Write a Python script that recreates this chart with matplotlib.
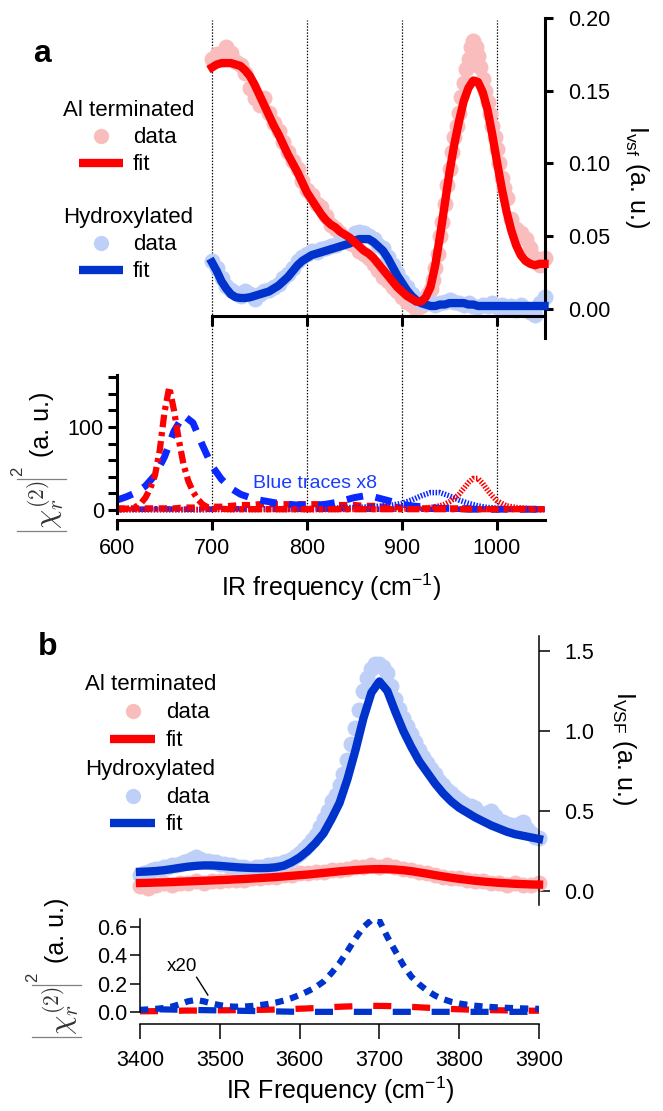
import numpy as np
import matplotlib
matplotlib.use("Agg")
import matplotlib.pyplot as plt
from matplotlib.lines import Line2D
from matplotlib.ticker import MultipleLocator, FormatStrFormatter

plt.rcParams['font.family'] = ['Liberation Sans', 'DejaVu Sans']
plt.rcParams['mathtext.fontset'] = 'custom'
plt.rcParams['mathtext.rm'] = 'Liberation Sans'
plt.rcParams['mathtext.it'] = 'Liberation Sans:italic'
plt.rcParams['mathtext.bf'] = 'Liberation Sans:bold'
plt.rcParams['lines.scale_dashes'] = False

W, H = 663, 1111

# ---------------- dados ----------------
# painel a, espectro I_vsf
fa = np.arange(700, 1051, 5)
# pontos mais densos na subida do pico de 975
fa_al = np.concatenate([np.arange(700, 921, 5), np.arange(922.5, 1011, 2.5), np.arange(1015, 1051, 5)])
al_data_a = [0.172, 0.175, 0.172, 0.180, 0.176, 0.170, 0.168, 0.162, 0.152, 0.145,
             0.140, 0.145, 0.135, 0.128, 0.122, 0.115, 0.108, 0.102, 0.096, 0.088,
             0.082, 0.078, 0.072, 0.070, 0.064, 0.058, 0.055, 0.052, 0.048, 0.045,
             0.044, 0.040, 0.038, 0.035, 0.031, 0.027, 0.022, 0.019, 0.015, 0.012,
             0.008, 0.005, 0.003, 0.000, 0.002,
             0.004, 0.006, 0.010, 0.014, 0.020, 0.028, 0.038, 0.050, 0.060, 0.072,
             0.085, 0.096, 0.108, 0.118, 0.126, 0.135, 0.146, 0.155, 0.165, 0.172,
             0.180, 0.184, 0.180, 0.174, 0.166, 0.158, 0.150, 0.142, 0.134, 0.126,
             0.118, 0.110, 0.100, 0.090, 0.083, 0.076,
             0.062, 0.055, 0.052, 0.048, 0.042, 0.035, 0.030, 0.035]
al_fit_a = [0.166, 0.168, 0.169, 0.169, 0.169, 0.168, 0.167, 0.164, 0.160, 0.154,
            0.147, 0.140, 0.133, 0.126, 0.120, 0.113, 0.106, 0.100, 0.094, 0.087,
            0.080, 0.075, 0.070, 0.065, 0.061, 0.058, 0.056, 0.053, 0.051, 0.049,
            0.046, 0.043, 0.040, 0.038, 0.035, 0.031, 0.027, 0.023, 0.019, 0.015,
            0.012, 0.009, 0.007, 0.005, 0.005, 0.008, 0.015, 0.030, 0.050, 0.072,
            0.094, 0.113, 0.129, 0.143, 0.152, 0.157, 0.156, 0.149, 0.137, 0.120,
            0.101, 0.083, 0.067, 0.054, 0.044, 0.037, 0.033, 0.031, 0.030, 0.031,
            0.031]
oh_data_a = [0.033, 0.028, 0.021, 0.016, 0.013, 0.011, 0.009, 0.012, 0.010, 0.007,
             0.010, 0.012, 0.013, 0.015, 0.017, 0.021, 0.024, 0.028, 0.033, 0.036,
             0.038, 0.040, 0.039, 0.041, 0.042, 0.043, 0.044, 0.046, 0.047, 0.049,
             0.052, 0.053, 0.052, 0.050, 0.048, 0.044, 0.042, 0.036, 0.030, 0.025,
             0.019, 0.015, 0.010, 0.007, 0.005, 0.004, 0.004, 0.003, 0.004, 0.005,
             0.006, 0.005, 0.004, 0.003, 0.004, 0.002, 0.001, 0.003, 0.002, 0.004,
             0.001, 0.003, 0.000, 0.002, -0.001, 0.003, 0.000, -0.002, -0.004, 0.004,
             0.008]
oh_fit_a = [0.032, 0.026, 0.019, 0.014, 0.010, 0.008, 0.0075, 0.0075, 0.008, 0.009,
            0.010, 0.011, 0.012, 0.014, 0.016, 0.019, 0.022, 0.026, 0.030, 0.033,
            0.035, 0.037, 0.038, 0.039, 0.040, 0.041, 0.042, 0.043, 0.044, 0.045,
            0.047, 0.048, 0.048, 0.048, 0.046, 0.043, 0.040, 0.035, 0.029, 0.023,
            0.018, 0.013, 0.009, 0.006, 0.004, 0.003, 0.002, 0.002, 0.003, 0.003,
            0.004, 0.004, 0.004, 0.004, 0.003, 0.003, 0.002, 0.002, 0.002, 0.002,
            0.002, 0.002, 0.002, 0.002, 0.002, 0.002, 0.002, 0.002, 0.002, 0.002,
            0.002]
grid_freqs = [700, 800, 900, 1000]

# painel a, |chi|^2 dos modos (azul ja multiplicado por 8)
fa_chi = np.arange(600, 1051, 10)
oh_dash_a = [12, 16, 21, 29, 42, 64, 95, 114, 105, 78,
             53, 37, 26, 19, 15, 12, 10, 8, 7, 6,
             6, 6, 7, 9, 12, 15, 17, 16, 13, 10,
             7, 5, 4, 3, 2, 2, 2, 1, 1, 1,
             1, 1, 1, 1, 1, 1]
oh_dot_a = [0.5, 0.5, 0.5, 0.5, 0.5, 0.5, 0.5, 0.5, 0.5, 0.5,
            1, 1, 1, 1, 1, 1.5, 1.5, 1.5, 2, 2,
            2, 2, 2.5, 2.5, 3, 3, 3.5, 4, 5, 6,
            8, 12, 17, 21, 21, 17, 12, 8, 5, 3,
            2, 1.5, 1, 1, 0.5, 0.5]
oh_dashdot_a = [1, 1, 1, 1, 1.5, 1.5, 1, 1, 1, 1,
                1, 1, 1.5, 1.5, 1, 1, 1, 1, 1, 1,
                1, 1, 1, 1.5, 1.5, 1, 1, 1, 1, 1,
                1, 1, 1, 1, 1, 1, 1, 1, 1, 1,
                1, 1, 1, 1, 1, 1]
al_dash_a = [2, 2, 2, 2, 2, 2, 2, 3, 3, 3,
             4, 4, 5, 6, 6, 7, 7, 7, 7, 7,
             7, 7, 6, 6, 6, 6, 5, 5, 4, 4,
             3, 3, 2, 2, 2, 2, 2, 2, 1, 1,
             1, 1, 1, 1, 1, 1]
al_dd_x = [600, 610, 620, 625, 630, 635, 640, 645, 650, 655, 660, 665, 670, 675,
           680, 685, 690, 695, 700, 720, 760, 800, 850, 900, 950, 1000, 1050]
al_dd_y = [0.5, 1.5, 4, 8, 15, 26, 42, 72, 118, 148, 120, 85, 55, 35,
           22, 13, 7, 3.5, 2, 1, 1, 1, 1, 1, 1, 1, 1]
al_dot_x = [600, 700, 800, 900, 920, 930, 940, 945, 950, 955, 960, 965, 970,
            975, 980, 985, 990, 995, 1000, 1005, 1010, 1020, 1030, 1040, 1050]
al_dot_y = [0.5, 0.5, 0.5, 1, 2, 3, 5, 7, 10, 14, 19, 26, 33,
            38, 38, 32, 24, 17, 11, 8, 5, 3, 2, 1, 1]

# painel b, espectro I_VSF
fb = np.arange(3400, 3901, 10)
fb_oh = np.arange(3400, 3901, 5)
oh_data_b = [0.10, 0.11, 0.12, 0.13, 0.14, 0.14, 0.15, 0.15, 0.16, 0.16,
             0.17, 0.18, 0.19, 0.20, 0.21, 0.20, 0.19, 0.19, 0.18, 0.18,
             0.17, 0.17, 0.16, 0.16, 0.15, 0.15, 0.15, 0.14, 0.14, 0.15,
             0.15, 0.15, 0.16, 0.16, 0.17, 0.17, 0.18, 0.19, 0.20, 0.22,
             0.24, 0.26, 0.29, 0.32, 0.35, 0.40, 0.45, 0.50, 0.56, 0.60,
             0.66, 0.73, 0.82, 0.92, 1.02, 1.13, 1.25, 1.33, 1.39, 1.42,
             1.42, 1.40, 1.36, 1.28, 1.20, 1.14, 1.08, 1.03, 0.98, 0.93,
             0.88, 0.84, 0.80, 0.76, 0.73, 0.69, 0.66, 0.63, 0.61, 0.59,
             0.57, 0.55, 0.53, 0.53, 0.52, 0.49, 0.47, 0.49, 0.50, 0.47,
             0.44, 0.43, 0.42, 0.41, 0.40, 0.42, 0.43, 0.39, 0.36, 0.34,
             0.33]
oh_fit_b = [0.120, 0.122, 0.125, 0.130, 0.137, 0.145, 0.152, 0.157, 0.160, 0.160,
            0.157, 0.153, 0.149, 0.146, 0.144, 0.143, 0.144, 0.148, 0.158, 0.180,
            0.210, 0.250, 0.300, 0.360, 0.450, 0.550, 0.700, 0.880, 1.080, 1.240,
            1.310, 1.250, 1.120, 1.000, 0.900, 0.810, 0.740, 0.670, 0.610, 0.560,
            0.520, 0.490, 0.460, 0.435, 0.410, 0.390, 0.370, 0.355, 0.345, 0.335,
            0.325]
al_data_b = [0.03, 0.02, 0.04, 0.05, 0.04, 0.05, 0.05, 0.06, 0.05, 0.06,
             0.06, 0.07, 0.07, 0.07, 0.08, 0.08, 0.09, 0.09, 0.10, 0.10,
             0.11, 0.11, 0.12, 0.12, 0.13, 0.13, 0.14, 0.15, 0.15, 0.16,
             0.15, 0.16, 0.15, 0.14, 0.13, 0.12, 0.11, 0.10, 0.09, 0.08,
             0.08, 0.07, 0.06, 0.06, 0.05, 0.05, 0.04, 0.05, 0.04, 0.04,
             0.05]
al_fit_b = [0.050, 0.051, 0.053, 0.054, 0.056, 0.058, 0.060, 0.062, 0.064, 0.066,
            0.068, 0.070, 0.073, 0.075, 0.078, 0.081, 0.084, 0.087, 0.091, 0.095,
            0.099, 0.103, 0.108, 0.113, 0.118, 0.123, 0.127, 0.131, 0.134, 0.136,
            0.137, 0.136, 0.134, 0.130, 0.124, 0.116, 0.108, 0.099, 0.091, 0.083,
            0.076, 0.070, 0.064, 0.059, 0.055, 0.051, 0.048, 0.045, 0.043, 0.041,
            0.040]

# painel b, |chi|^2 (x20 no pequeno)
oh_dot_b = [0.015, 0.018, 0.022, 0.028, 0.038, 0.055, 0.075, 0.085, 0.075, 0.060,
            0.048, 0.040, 0.037, 0.038, 0.042, 0.048, 0.056, 0.066, 0.080, 0.098,
            0.120, 0.145, 0.175, 0.215, 0.275, 0.345, 0.430, 0.520, 0.600, 0.650,
            0.645, 0.530, 0.430, 0.330, 0.250, 0.195, 0.150, 0.115, 0.090, 0.072,
            0.060, 0.051, 0.044, 0.039, 0.035, 0.032, 0.029, 0.027, 0.025, 0.023,
            0.022]
oh_dash_b = [0.020, 0.020, 0.019, 0.018, 0.017, 0.016, 0.015, 0.014, 0.013, 0.012,
             0.011, 0.010, 0.009, 0.008, 0.007, 0.006, 0.005, 0.004, 0.003, 0.002,
             0.002, 0.001, 0.001, 0.001, 0.001, 0.001, 0.001, 0.001, 0.001, 0.001,
             0.001, 0.001, 0.001, 0.001, 0.001, 0.001, 0.001, 0.001, 0.001, 0.001,
             0.001, 0.001, 0.001, 0.001, 0.001, 0.001, 0.001, 0.001, 0.001, 0.001,
             0.001]
al_dash_b = [0.005, 0.005, 0.006, 0.007, 0.008, 0.009, 0.010, 0.010, 0.011, 0.011,
             0.012, 0.012, 0.013, 0.013, 0.014, 0.015, 0.016, 0.017, 0.019, 0.021,
             0.023, 0.025, 0.028, 0.031, 0.034, 0.037, 0.039, 0.041, 0.042, 0.043,
             0.043, 0.042, 0.041, 0.039, 0.036, 0.033, 0.030, 0.027, 0.024, 0.021,
             0.019, 0.017, 0.015, 0.014, 0.013, 0.012, 0.011, 0.010, 0.010, 0.009,
             0.009]

# cores
PINK = "#f9bdbd"
LBLUE = "#bfd0f8"
RED = "#ff0000"
DBLUE = "#0033cc"
BBLUE = "#0a28ff"

MS = 11.5  # diametro do marcador em pt


def fx(x):
    return x / W


def fy(y):
    return 1 - y / H


fig = plt.figure(figsize=(W / 100, H / 100), dpi=100)
fig.patch.set_facecolor("white")

# linhas pontilhadas verticais atravessando os dois graficos do painel a
axv = fig.add_axes([fx(117), fy(513), 427.5 / W, 493 / H])
axv.set_xlim(600, 1050)
axv.axis("off")
for g in grid_freqs:
    axv.axvline(g, color="black", lw=0.9, ls=(0, (1, 1.2)))
axv.set_zorder(0)

# ================= painel a - espectro =================
ax1 = fig.add_axes([fx(212), fy(338), 332.5 / W, 320 / H])
ax1.set_zorder(1)
ax1.patch.set_alpha(0)
ax1.plot(fa_al, al_data_a, "o", ms=MS, color=PINK, mec="none", clip_on=False, zorder=2)
ax1.plot(fa, oh_data_a, "o", ms=MS, color=LBLUE, mec="none", clip_on=False, zorder=2)
ax1.plot(fa, oh_fit_a, color=DBLUE, lw=6, solid_joinstyle="round", clip_on=False, zorder=3)
ax1.plot(fa, al_fit_a, color=RED, lw=6, solid_joinstyle="round", clip_on=False, zorder=4)
ax1.set_xlim(700, 1050)
ax1.set_ylim(-0.02, 0.2)
ax1.spines["left"].set_visible(False)
ax1.spines["top"].set_visible(False)
ax1.spines["right"].set_linewidth(2.2)
ax1.spines["bottom"].set_linewidth(2.2)
ax1.spines["bottom"].set_position(("data", -0.005))
ax1.yaxis.tick_right()
ax1.set_yticks([0, 0.05, 0.10, 0.15, 0.20])
ax1.yaxis.set_major_formatter(FormatStrFormatter("%.2f"))
ax1.set_xticks(grid_freqs)
ax1.set_xticklabels([])
ax1.tick_params(axis="y", direction="out", length=6, width=2.2, pad=11, labelsize=15.5)
ax1.tick_params(axis="x", direction="out", length=7, width=2.2)

# ================= painel a - |chi|^2 =================
ax2 = fig.add_axes([fx(117), fy(520), 427.5 / W, 145.3 / H])
ax2.set_zorder(1)
ax2.patch.set_alpha(0)
ax2.plot(fa_chi, oh_dashdot_a, color=BBLUE, lw=4, ls=(0, (8, 3, 2, 3)))
ax2.plot(fa_chi, al_dash_a, color=RED, lw=4.5, ls=(0, (6, 4)))
ax2.plot(fa_chi, oh_dash_a, color=BBLUE, lw=5, ls=(0, (12, 9)))
ax2.plot(fa_chi, oh_dot_a, color=BBLUE, lw=4, ls=(0, (1.1, 1.1)))
ax2.plot(al_dot_x, al_dot_y, color=RED, lw=4, ls=(0, (1.1, 1.1)))
ax2.plot(al_dd_x, al_dd_y, color=RED, lw=4.5, ls=(0, (9, 3.5, 3, 3.5)))
ax2.text(743, 32, "Blue traces x8", color="#1a3cff", fontsize=14, ha="left", va="center")
ax2.set_xlim(600, 1050)
ax2.set_ylim(-12, 163)
ax2.spines["top"].set_visible(False)
ax2.spines["right"].set_visible(False)
ax2.spines["left"].set_linewidth(2.2)
ax2.spines["bottom"].set_linewidth(2.2)
ax2.spines["left"].set_bounds(-3, 163)
ax2.set_xticks([600, 700, 800, 900, 1000])
ax2.set_yticks([0, 100])
ax2.yaxis.set_minor_locator(MultipleLocator(20))
ax2.tick_params(axis="y", which="both", direction="out", length=6.5, width=2.2, pad=3, labelsize=15.5)
ax2.tick_params(axis="x", direction="out", length=7, width=2.2, pad=6, labelsize=15.5)

# ================= painel b - espectro =================
ax3 = fig.add_axes([fx(140), fy(905), 399 / W, 269 / H])
ax3.set_zorder(1)
ax3.patch.set_alpha(0)
ax3.plot(fb, al_data_b, "o", ms=MS, color=PINK, mec="none", clip_on=False, zorder=2)
ax3.plot(fb_oh, oh_data_b, "o", ms=MS, color=LBLUE, mec="none", clip_on=False, zorder=2)
ax3.plot(fb, al_fit_b, color=RED, lw=6, solid_joinstyle="round", clip_on=False, zorder=3)
ax3.plot(fb, oh_fit_b, color=DBLUE, lw=6, solid_joinstyle="round", clip_on=False, zorder=4)
ax3.set_xlim(3400, 3900)
ax3.set_ylim(-0.0875, 1.594)
for s in ["left", "top", "bottom"]:
    ax3.spines[s].set_visible(False)
ax3.spines["right"].set_linewidth(1.1)
ax3.yaxis.tick_right()
ax3.set_yticks([0, 0.5, 1.0, 1.5])
ax3.yaxis.set_major_formatter(FormatStrFormatter("%.1f"))
ax3.set_xticks([])
ax3.tick_params(axis="y", direction="out", length=8, width=1.1, pad=10, labelsize=15.5)

# ================= painel b - |chi|^2 =================
ax4 = fig.add_axes([fx(140), fy(1024), 399 / W, 105 / H])
ax4.set_zorder(1)
ax4.patch.set_alpha(0)
ax4.plot(fb, al_dash_b, color=RED, lw=4.5, ls=(0, (13, 15)))
ax4.plot(fb, oh_dash_b, color=DBLUE, lw=4.5, ls=(14, (13, 15)))
ax4.plot(fb, oh_dot_b, color=DBLUE, lw=4.5, ls=(0, (6, 5)))
ax4.text(3453, 0.32, "x20", fontsize=13.5, ha="center", va="center")
ax4.plot([3471, 3485], [0.245, 0.12], color="black", lw=1)
ax4.set_xlim(3400, 3900)
ax4.set_ylim(-0.085, 0.657)
ax4.spines["top"].set_visible(False)
ax4.spines["right"].set_visible(False)
ax4.spines["left"].set_linewidth(1.1)
ax4.spines["bottom"].set_linewidth(1.1)
ax4.spines["left"].set_bounds(0, 0.657)
ax4.set_xticks([3400, 3500, 3600, 3700, 3800, 3900])
ax4.set_yticks([0, 0.2, 0.4, 0.6])
ax4.yaxis.set_major_formatter(FormatStrFormatter("%.1f"))
ax4.tick_params(axis="y", direction="out", length=7, width=1.1, pad=2, labelsize=15.5)
ax4.tick_params(axis="x", direction="out", length=11, width=1.1, pad=8, labelsize=15.5)

# ================= textos e legendas =================
fig.text(fx(33), fy(62), "a", fontsize=23, fontweight="bold", ha="left", va="baseline")
fig.text(fx(38), fy(655), "b", fontsize=23, fontweight="bold", ha="left", va="baseline")


def legenda(x_txt, x_head, y_lines, x_dot, x_l0, x_l1):
    linhas = [("Al terminated", None), ("data", PINK), ("fit", RED),
              ("Hydroxylated", None), ("data", LBLUE), ("fit", DBLUE)]
    for (txt, cor), yb in zip(linhas, y_lines):
        if cor is None:
            fig.text(fx(x_head), fy(yb), txt, fontsize=16, ha="left", va="baseline")
            continue
        fig.text(fx(x_txt), fy(yb), txt, fontsize=16, ha="left", va="baseline")
        ym = yb - 7
        if txt == "data":
            fig.add_artist(Line2D([fx(x_dot)], [fy(ym)], marker="o", ms=11,
                                  color=cor, mec="none", transform=fig.transFigure))
        else:
            fig.add_artist(Line2D([fx(x_l0), fx(x_l1)], [fy(ym), fy(ym)], lw=6,
                                  color=cor, solid_capstyle="butt", transform=fig.transFigure))


legenda(133, 63, [116, 143, 170, 223, 250, 277], 101, 79, 123)
legenda(166, 85, [690, 718, 746, 775, 803, 830], 133, 110, 155)


def rotulo_chi(dx, dy):
    # |chi_r^(2)|^2 (a. u.) girado, com barras altas cinzas como no original
    fig.text(fx(46 + dx), fy(505 + dy), r"$\chi_r^{(2)}$", rotation=90, fontsize=22,
             ha="center", va="center", math_fontfamily="cm", color="#333333")
    for yb in (479, 531):
        fig.add_artist(Line2D([fx(17 + dx), fx(66 + dx)], [fy(yb + dy), fy(yb + dy)],
                              lw=0.9, color="#808080", transform=fig.transFigure))
    fig.text(fx(18 + dx), fy(471 + dy), "2", rotation=90, fontsize=12,
             ha="center", va="center", color="#333333")
    fig.text(fx(42 + dx), fy(424 + dy), "(a. u.)", rotation=90, fontsize=18,
             ha="center", va="center")


# rotulos dos eixos
fig.text(fx(637), fy(177), r"I$_{\mathregular{vsf}}$ (a. u.)", rotation=270,
         fontsize=18, ha="center", va="center")
fig.text(fx(624), fy(748), r"I$_{\mathregular{VSF}}$ (a. u.)", rotation=270,
         fontsize=18, ha="center", va="center")
rotulo_chi(0, 0)
rotulo_chi(15, 506)
fig.text(fx(331), fy(587), r"IR frequency (cm$^{\mathregular{-1}}$)",
         fontsize=18, ha="center", va="center")
fig.text(fx(340), fy(1090), r"IR Frequency (cm$^{\mathregular{-1}}$)",
         fontsize=18, ha="center", va="center")

fig.savefig("out.png", dpi=100)
